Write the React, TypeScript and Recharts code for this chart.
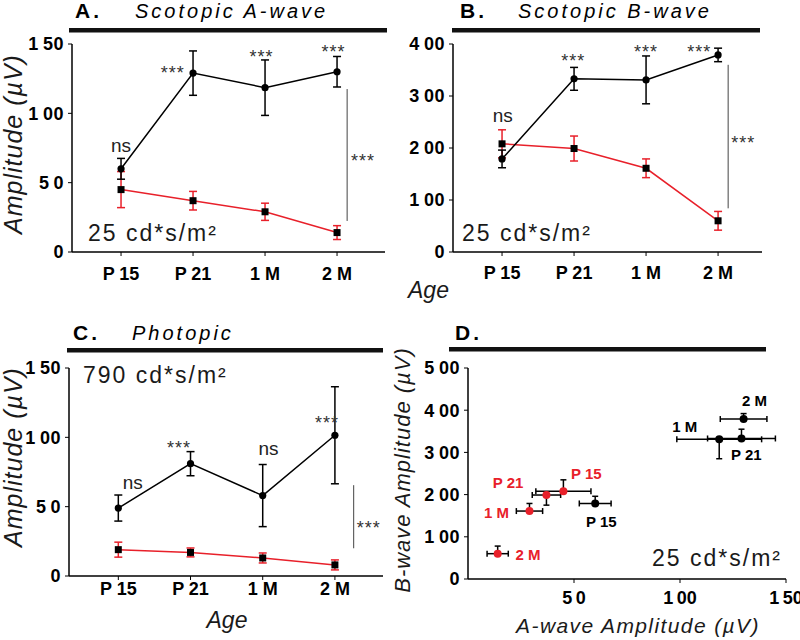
import React from 'react';
import {
  LineChart,
  Line,
  ScatterChart,
  Scatter,
  XAxis,
  YAxis,
  ErrorBar,
  ReferenceLine,
  ReferenceDot,
} from 'recharts';

const FONT = '"Liberation Sans", Arial, Helvetica, sans-serif';
const RED = '#e8202a';

// ages on the x axis (positions 1..4)
const AGES = ['P 15', 'P 21', '1 M', '2 M'];
const AGE_POS = [1, 2, 3, 4];

// A. scotopic a-wave, µV
const aWaveBlack = [60, 129, 118.5, 130];
const aWaveBlackErr = [7.5, 16, 20, 11];
const aWaveRed = [45, 37, 29, 14];
const aWaveRedErr = [13, 6.7, 6.2, 5];

// B. scotopic b-wave, µV
const bWaveBlack = [179, 333, 331, 379];
const bWaveBlackErr = [17, 22, 46, 13];
const bWaveRed = [208, 199, 161, 60];
const bWaveRedErr = [27, 24, 18, 18];

// C. photopic, µV
const photoBlack = [49, 81, 58, 101.5];
const photoBlackErr = [9.4, 8.7, 22.4, 35];
const photoRed = [19, 17, 13, 8];
const photoRedErr = [5.4, 3.2, 3.6, 3.6];

// D. b-wave error bars are one-sided
const dBlackSide = ['up', 'up', 'down', 'up'];
const dRedSide = ['up', 'down', 'up', 'up'];

// significance marks: [text, x, y]
const aMarks: [string, number, number][] = [
  ['ns', 1, 76],
  ['***', 1.72, 132.5],
  ['***', 2.95, 143.7],
  ['***', 3.95, 147.3],
  ['***', 4.36, 69],
];
const bMarks: [string, number, number][] = [
  ['ns', 1.01, 260],
  ['***', 1.99, 375],
  ['***', 3, 393],
  ['***', 3.74, 393],
  ['***', 4.35, 219],
];
const cMarks: [string, number, number][] = [
  ['ns', 1.2, 66.7],
  ['***', 1.84, 95.5],
  ['ns', 3.08, 90.7],
  ['***', 3.89, 113.5],
  ['***', 4.47, 38],
];
// bracket lines: [x, yFrom, yTo]
const aBracket = [4.14, 22.4, 117.5];
const bBracket = [4.14, 84, 360];
const cBracket = [4.26, 20, 65.5];

// D point labels: [text, x, y]
const dBlackLabels: [string, number, number][] = [
  ['P 15', 62.9, 136],
  ['P 21', 131.3, 294],
  ['1 M', 102.2, 362],
  ['2 M', 135.2, 424],
];
const dRedLabels: [string, number, number][] = [
  ['P 15', 55.8, 250],
  ['P 21', 18.9, 229],
  ['1 M', 13.4, 157.5],
  ['2 M', 28.3, 57.5],
];

const toRows = (vals: number[], errs: number[]) =>
  vals.map((y, i) => ({ x: AGE_POS[i], y, err: errs[i] }));

const toScatter = (xs: number[], xe: number[], ys: number[], ye: number[], side: string[]) =>
  xs.map((x, i) => ({
    x,
    y: ys[i],
    ex: xe[i],
    ey: side[i] === 'up' ? [0, ye[i]] : [ye[i], 0],
  }));

// "150" -> "1 50" with a thin gap, like the original figure
const tickFmt = (v: number) => {
  const s = String(v);
  return s.length > 1 ? s[0] + '\u2009' + s.slice(1) : s;
};

const axisStyle = { stroke: '#000', strokeWidth: 1.5 };
const tickText = { fontSize: 18, fontWeight: 700, fill: '#000', fontFamily: FONT, letterSpacing: 0.5 };

const SquareDot = (p: any) => (
  <rect key={`sq${p.index}`} x={p.cx - 3.5} y={p.cy - 3.5} width={7} height={7} fill="#000" />
);
const CircleDot = (p: any) => (
  <circle key={`ci${p.index}`} cx={p.cx} cy={p.cy} r={3.6} fill="#000" />
);

const markShape = (text: string) => (p: any) => {
  const stars = text === '***';
  const fs = stars ? 18 : 19;
  return (
    <text
      x={p.cx}
      y={p.cy + (stars ? fs * 0.58 : fs * 0.27)}
      textAnchor="middle"
      fontSize={fs}
      fill={stars ? '#333' : '#222'}
      fontFamily={FONT}
      letterSpacing={stars ? 1 : 0}
    >
      {text}
    </text>
  );
};

const pointLabel = (text: string, color: string) => (p: any) => (
  <text
    x={p.cx}
    y={p.cy}
    dominantBaseline="central"
    textAnchor="middle"
    fontSize={15}
    fontWeight={700}
    fill={color}
    fontFamily={FONT}
  >
    {text}
  </text>
);

function LinePanel(props: any) {
  const { left, top, margin, xDomain, yMax, yTicks, black, red, marks, bracket, tickGap } = props;
  return (
    <div style={{ position: 'absolute', left, top }}>
      <LineChart width={400} height={320} margin={margin}>
        <XAxis
          type="number"
          dataKey="x"
          domain={xDomain}
          ticks={AGE_POS}
          interval={0}
          tickFormatter={(v) => AGES[v - 1]}
          axisLine={axisStyle}
          tickLine={{ stroke: '#000' }}
          tickSize={4}
          tickMargin={tickGap}
          tick={{ ...tickText, letterSpacing: 0 }}
          height={30}
          allowDataOverflow
        />
        <YAxis
          type="number"
          domain={[0, yMax]}
          ticks={yTicks}
          interval={0}
          tickFormatter={tickFmt}
          axisLine={axisStyle}
          tickLine={{ stroke: '#000' }}
          tickSize={4}
          tickMargin={4}
          tick={tickText}
          width={50}
        />
        <ReferenceLine
          segment={[
            { x: bracket[0], y: bracket[1] },
            { x: bracket[0], y: bracket[2] },
          ]}
          stroke="#444"
          strokeWidth={1}
        />
        <Line
          data={red}
          dataKey="y"
          stroke={RED}
          strokeWidth={1.5}
          dot={SquareDot}
          activeDot={false}
          isAnimationActive={false}
        >
          <ErrorBar dataKey="err" width={4} stroke={RED} strokeWidth={1.5} />
        </Line>
        <Line
          data={black}
          dataKey="y"
          stroke="#000"
          strokeWidth={1.5}
          dot={CircleDot}
          activeDot={false}
          isAnimationActive={false}
        >
          <ErrorBar dataKey="err" width={4} stroke="#000" strokeWidth={1.5} />
        </Line>
        {marks.map(([t, x, y]: [string, number, number], i: number) => (
          <ReferenceDot key={i} x={x} y={y} r={0} shape={markShape(t)} />
        ))}
      </LineChart>
    </div>
  );
}

function ScatterPanel() {
  const black = toScatter(aWaveBlack, aWaveBlackErr, bWaveBlack, bWaveBlackErr, dBlackSide);
  const red = toScatter(aWaveRed, aWaveRedErr, bWaveRed, bWaveRedErr, dRedSide);
  return (
    <div style={{ position: 'absolute', left: 400, top: 320 }}>
      <ScatterChart width={400} height={320} margin={{ top: 48, right: 14, bottom: 31, left: 18 }}>
        <XAxis
          type="number"
          dataKey="x"
          domain={[0, 150]}
          ticks={[50, 100, 150]}
          interval={0}
          tickFormatter={tickFmt}
          axisLine={axisStyle}
          tickLine={{ stroke: '#000' }}
          tickSize={4}
          tickMargin={8}
          tick={{ ...tickText, letterSpacing: 0 }}
          height={30}
        />
        <YAxis
          type="number"
          dataKey="y"
          domain={[0, 500]}
          ticks={[0, 100, 200, 300, 400, 500]}
          interval={0}
          tickFormatter={tickFmt}
          axisLine={axisStyle}
          tickLine={{ stroke: '#000' }}
          tickSize={4}
          tickMargin={4}
          tick={tickText}
          width={50}
        />
        <Scatter
          data={black}
          isAnimationActive={false}
          shape={(p: any) => <circle cx={p.cx} cy={p.cy} r={4} fill="#000" />}
        >
          <ErrorBar dataKey="ex" direction="x" width={3} stroke="#000" strokeWidth={1.5} />
          <ErrorBar dataKey="ey" direction="y" width={3} stroke="#000" strokeWidth={1.5} />
        </Scatter>
        <Scatter
          data={red}
          isAnimationActive={false}
          shape={(p: any) => <circle cx={p.cx} cy={p.cy} r={4} fill={RED} />}
        >
          <ErrorBar dataKey="ex" direction="x" width={3} stroke="#000" strokeWidth={1.5} />
          <ErrorBar dataKey="ey" direction="y" width={3} stroke="#000" strokeWidth={1.5} />
        </Scatter>
        {dBlackLabels.map(([t, x, y], i) => (
          <ReferenceDot key={`b${i}`} x={x} y={y} r={0} shape={pointLabel(t, '#000')} />
        ))}
        {dRedLabels.map(([t, x, y], i) => (
          <ReferenceDot key={`r${i}`} x={x} y={y} r={0} shape={pointLabel(t, RED)} />
        ))}
      </ScatterChart>
    </div>
  );
}

function Overlay() {
  const title = { fontFamily: FONT, fill: '#000' };
  const cd = { fontFamily: FONT, fontSize: 23, letterSpacing: 2, fill: '#1a1a1a', dominantBaseline: 'central' as const };
  const axisLabel = { fontFamily: FONT, fontStyle: 'italic' as const, fill: '#1a1a1a', dominantBaseline: 'central' as const };
  return (
    <svg
      width={800}
      height={640}
      style={{ position: 'absolute', left: 0, top: 0, pointerEvents: 'none' }}
    >
      {/* panel headings */}
      <text x={75} y={18} fontSize={21} fontWeight={700} letterSpacing={3} {...title}>A.</text>
      <text x={135} y={18} fontSize={20} fontStyle="italic" letterSpacing={3} {...title}>Scotopic A-wave</text>
      <rect x={69} y={28} width={318} height={4.5} fill="#111" />

      <text x={460} y={18} fontSize={21} fontWeight={700} letterSpacing={3} {...title}>B.</text>
      <text x={518} y={18} fontSize={20} fontStyle="italic" letterSpacing={3} {...title}>Scotopic B-wave</text>
      <rect x={452} y={28} width={308} height={4.5} fill="#111" />

      <text x={73} y={340} fontSize={21} fontWeight={700} letterSpacing={3} {...title}>C.</text>
      <text x={132} y={340} fontSize={20} fontStyle="italic" letterSpacing={3} {...title}>Photopic</text>
      <rect x={67} y={348} width={316} height={4.5} fill="#111" />

      <text x={455} y={340} fontSize={21} fontWeight={700} letterSpacing={3} {...title}>D.</text>
      <rect x={449} y={347} width={317} height={4.5} fill="#111" />

      {/* stimulus intensity */}
      <text x={88} y={233} {...cd}>25 cd*s/m²</text>
      <text x={462} y={233} {...cd}>25 cd*s/m²</text>
      <text x={83} y={375} {...cd}>790 cd*s/m²</text>
      <text x={782} y={558} textAnchor="end" {...cd}>25 cd*s/m²</text>

      {/* axis titles */}
      <text transform="translate(13,144) rotate(-90)" textAnchor="middle" fontSize={25} letterSpacing={1} {...axisLabel}>Amplitude (µV)</text>
      <text transform="translate(13,457) rotate(-90)" textAnchor="middle" fontSize={25} letterSpacing={1} {...axisLabel}>Amplitude (µV)</text>
      <text transform="translate(402,470) rotate(-90)" textAnchor="middle" fontSize={22} letterSpacing={1} {...axisLabel}>B-wave Amplitude (µV)</text>
      <text x={408} y={290} fontSize={23} {...axisLabel}>Age</text>
      <text x={227} y={620} textAnchor="middle" fontSize={23} {...axisLabel}>Age</text>
      <text x={638} y={625} textAnchor="middle" fontSize={21} letterSpacing={1.4} {...axisLabel}>A-wave Amplitude (µV)</text>
    </svg>
  );
}

export default function App() {
  return (
    <div
      style={{
        position: 'absolute',
        left: 0,
        top: 0,
        width: 800,
        height: 640,
        background: '#fff',
        overflow: 'hidden',
      }}
    >
      <LinePanel
        left={0}
        top={0}
        margin={{ top: 44, right: 15, bottom: 38, left: 22 }}
        xDomain={[0.319, 4.666]}
        yMax={150}
        yTicks={[0, 50, 100, 150]}
        black={toRows(aWaveBlack, aWaveBlackErr)}
        red={toRows(aWaveRed, aWaveRedErr)}
        marks={aMarks}
        bracket={aBracket}
        tickGap={11}
      />
      <LinePanel
        left={400}
        top={0}
        margin={{ top: 44, right: 38, bottom: 38, left: 3 }}
        xDomain={[0.319, 4.61]}
        yMax={400}
        yTicks={[0, 100, 200, 300, 400]}
        black={toRows(bWaveBlack, bWaveBlackErr)}
        red={toRows(bWaveRed, bWaveRedErr)}
        marks={bMarks}
        bracket={bBracket}
        tickGap={10}
      />
      <LinePanel
        left={0}
        top={320}
        margin={{ top: 48, right: 17, bottom: 34, left: 19 }}
        xDomain={[0.317, 4.666]}
        yMax={150}
        yTicks={[0, 50, 100, 150]}
        black={toRows(photoBlack, photoBlackErr)}
        red={toRows(photoRed, photoRedErr)}
        marks={cMarks}
        bracket={cBracket}
        tickGap={2}
      />
      <ScatterPanel />
      <Overlay />
    </div>
  );
}
